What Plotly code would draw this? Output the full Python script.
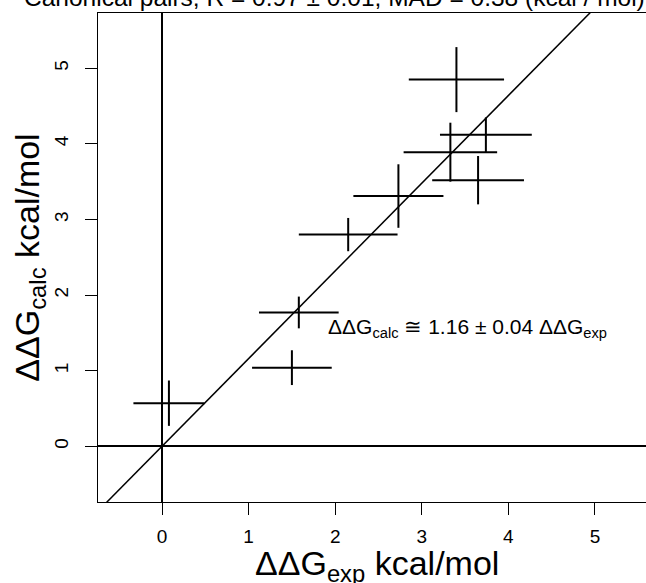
import plotly.graph_objects as go

# Experimental vs calculated ΔΔG (kcal/mol) for canonical pairs, with uncertainties
dg_exp = [0.08, 1.50, 1.58, 2.15, 2.73, 3.33, 3.40, 3.65, 3.74]
dg_calc = [0.57, 1.04, 1.77, 2.80, 3.31, 3.89, 4.85, 3.52, 4.12]
err_exp = [0.41, 0.46, 0.46, 0.57, 0.52, 0.54, 0.55, 0.53, 0.53]
err_calc = [0.30, 0.23, 0.21, 0.22, 0.42, 0.39, 0.43, 0.32, 0.23]

slope = 1.16
slope_err = 0.04
tick_vals = [0, 1, 2, 3, 4, 5]

title_text = "Canonical pairs, R = 0.97 \u00b1 0.01, MAD = 0.38 (kcal / mol)"
x_title = "\u0394\u0394G<sub>exp</sub> kcal/mol"
y_title = "\u0394\u0394G<sub>calc</sub> kcal/mol"

FONT = "Liberation Sans, Arial, Helvetica, sans-serif"

W, H = 646, 583
M_L, M_R, M_T, M_B = 98, 0, 13, 81
x_range = [-0.739, 5.589]
y_range = [-0.737, 5.731]
plot_w = W - M_L - M_R

fig = go.Figure()

# fitted line through the origin, spanning the whole panel
fit_x = [x_range[0] - 1, x_range[1] + 1]
fit_y = [slope * v for v in fit_x]
fig.add_trace(go.Scatter(
    x=fit_x, y=fit_y, mode="lines",
    line=dict(color="black", width=1.5),
    hoverinfo="skip", showlegend=False,
))

# crosses: error bars in both directions, no marker
fig.add_trace(go.Scatter(
    x=dg_exp, y=dg_calc, mode="markers",
    marker=dict(size=0.1, color="rgba(0,0,0,0)"),
    error_x=dict(type="data", array=err_exp, visible=True,
                 color="black", thickness=2, width=0),
    error_y=dict(type="data", array=err_calc, visible=True,
                 color="black", thickness=2, width=0),
    showlegend=False,
))

fig.add_annotation(
    x=1.89, y=1.56, xref="x", yref="y",
    xanchor="left", yanchor="middle", showarrow=False,
    text=f"\u0394\u0394G<sub>calc</sub> \u2245 {slope:.2f} \u00b1 {slope_err:.2f} \u0394\u0394G<sub>exp</sub>",
    font=dict(family=FONT, size=21, color="black"),
)

# main title, centred at x = 334 px of the figure, partly above the page
fig.add_annotation(
    x=(334 - M_L) / plot_w, xref="paper", y=1.0, yref="paper",
    xanchor="center", yanchor="middle", showarrow=False,
    text=title_text, yshift=16,
    font=dict(family=FONT, size=24.5, color="black"),
)

# x-axis title, sitting low so its descenders run off the page
fig.add_annotation(
    x=(377 - M_L) / plot_w, xref="paper", y=0.0, yref="paper",
    xanchor="center", yanchor="top", showarrow=False,
    text=x_title, yshift=-40,
    font=dict(family=FONT, size=34, color="black"),
)

axis_common = dict(
    showgrid=False,
    zeroline=True, zerolinecolor="black", zerolinewidth=2,
    showline=True, linecolor="black", linewidth=1.3,
    ticks="outside", ticklen=12, tickwidth=1.3, tickcolor="black",
    tickvals=tick_vals, ticktext=[str(v) for v in tick_vals],
    tickfont=dict(family=FONT, size=19, color="black"),
)

fig.update_layout(
    width=W, height=H,
    margin=dict(l=M_L, r=M_R, t=M_T, b=M_B, autoexpand=False),
    plot_bgcolor="white", paper_bgcolor="white",
    xaxis=dict(range=x_range, mirror=True, ticklabelstandoff=5, **axis_common),
    yaxis=dict(
        range=y_range, tickangle=-90, ticklabelstandoff=9,
        title=dict(text=y_title,
                   font=dict(family=FONT, size=34, color="black"), standoff=1),
        **axis_common,
    ),
)

fig.write_html("out.html")
